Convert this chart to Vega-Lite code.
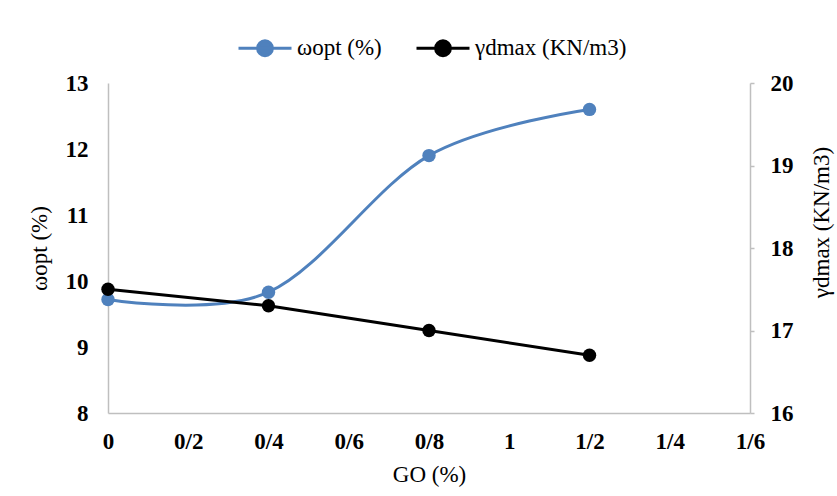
{
  "$schema": "https://vega.github.io/schema/vega-lite/v6.json",
  "width": 642,
  "height": 330,
  "autosize": {"type": "none"},
  "padding": {"left": 108, "top": 83, "right": 87, "bottom": 83},
  "background": "white",
  "data": {
    "values": [
      {"GO": 0, "w": 9.72, "g": 17.5},
      {"GO": 0.4, "w": 9.83, "g": 17.3},
      {"GO": 0.8, "w": 11.9, "g": 17.0},
      {"GO": 1.2, "w": 12.6, "g": 16.7}
    ]
  },
  "config": {
    "view": {"stroke": null},
    "font": "Liberation Serif",
    "style": {
      "guide-title": {"font": "Liberation Serif"},
      "guide-label": {"font": "Liberation Serif"}
    },
    "axis": {
      "grid": false,
      "domainColor": "#BFBFBF",
      "domainWidth": 1.5,
      "tickColor": "#BFBFBF",
      "tickWidth": 1.5,
      "labelFont": "Liberation Serif",
      "labelFontWeight": "bold",
      "labelFontSize": 23,
      "labelColor": "#000000",
      "titleFont": "Liberation Serif",
      "titleFontWeight": "normal",
      "titleFontSize": 23,
      "titleColor": "#000000"
    },
    "legend": {"labelFont": "Liberation Serif"}
  },
  "encoding": {
    "x": {
      "field": "GO",
      "type": "quantitative",
      "scale": {"domain": [0, 1.6], "nice": false},
      "axis": {
        "values": [0, 0.2, 0.4, 0.6, 0.8, 1.0, 1.2, 1.4, 1.6],
        "labelExpr": "replace(format(datum.value, '.1~f'), '.', '/')",
        "ticks": false,
        "labelPadding": 17,
        "labelFlush": false,
        "title": "GO (%)",
        "titleFont": "Liberation Serif",
        "titlePadding": 10
      }
    }
  },
  "layer": [
    {
      "mark": {"type": "line", "interpolate": "cardinal", "strokeWidth": 3, "point": {"filled": true, "size": 180}},
      "encoding": {
        "y": {
          "field": "w",
          "type": "quantitative",
          "scale": {"domain": [8, 13], "nice": false, "zero": false},
          "axis": {
            "values": [8, 9, 10, 11, 12, 13],
            "ticks": false,
            "labelPadding": 20,
            "title": "ωopt (%)",
            "titleFont": "Liberation Serif",
            "titlePadding": 14
          }
        },
        "color": {
          "datum": "ωopt (%)",
          "type": "nominal",
          "scale": {"domain": ["ωopt (%)", "γdmax (KN/m3)"], "range": ["#4F81BD", "#000000"]},
          "legend": {
            "orient": "none",
            "legendX": 129,
            "legendY": -63,
            "direction": "horizontal",
            "title": null,
            "symbolType": "M-1,0H1M-0.28,0A0.28,0.28 0 1,0 0.28,0A0.28,0.28 0 1,0 -0.28,0Z",
            "symbolSize": 2809,
            "symbolStrokeWidth": 3,
            "labelFont": "Liberation Serif",
            "labelFontSize": 23,
            "labelColor": "#000000",
            "labelOffset": 4,
            "columnPadding": 28,
            "encode": {
              "symbols": {
                "update": {
                  "fill": {"scale": "color", "field": "value"},
                  "stroke": {"scale": "color", "field": "value"},
                  "opacity": {"value": 1}
                }
              }
            }
          }
        }
      }
    },
    {
      "mark": {"type": "line", "interpolate": "linear", "strokeWidth": 3, "point": {"filled": true, "size": 180}},
      "encoding": {
        "y": {
          "field": "g",
          "type": "quantitative",
          "scale": {"domain": [16, 20], "nice": false, "zero": false},
          "axis": {
            "orient": "right",
            "values": [16, 17, 18, 19, 20],
            "ticks": true,
            "tickSize": 4,
            "labelPadding": 16,
            "title": "γdmax (KN/m3)",
            "titleFont": "Liberation Serif",
            "titleAngle": 270,
            "titlePadding": 40,
            "titleY": 139
          }
        },
        "color": {"datum": "γdmax (KN/m3)", "type": "nominal"}
      }
    }
  ],
  "resolve": {"scale": {"y": "independent"}}
}
